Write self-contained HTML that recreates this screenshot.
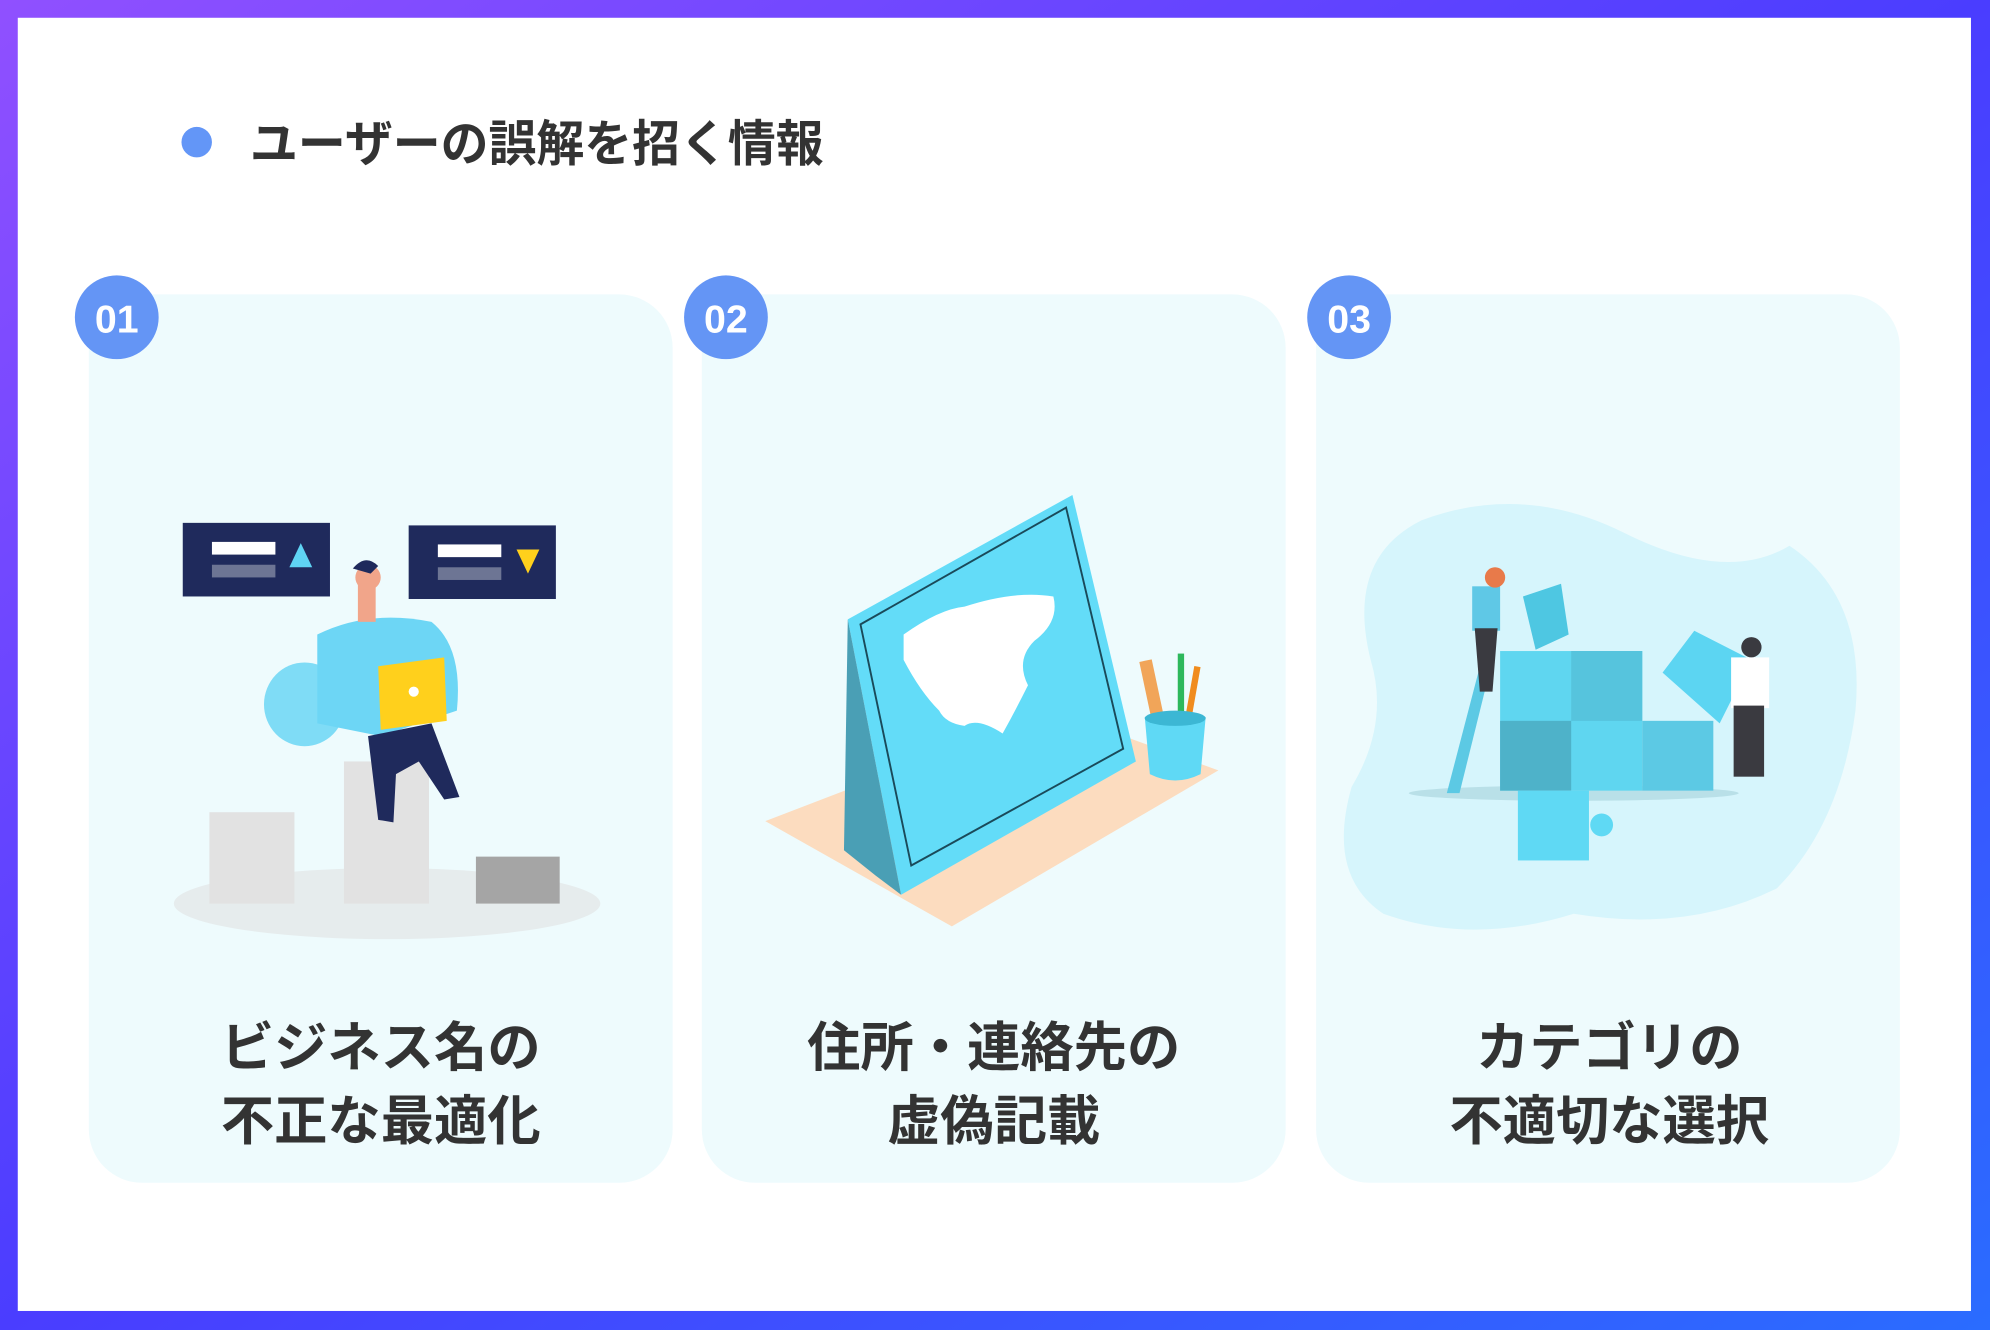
<!DOCTYPE html>
<html><head><meta charset="utf-8"><style>
html,body{margin:0;padding:0;background:#fff}
svg{display:block}
text{font-family:"Liberation Sans","Noto Sans CJK JP",sans-serif;font-weight:bold}
</style></head><body>
<svg width="1990" height="1330" viewBox="0 0 1568 1048" preserveAspectRatio="none" xmlns="http://www.w3.org/2000/svg">
<defs>
<linearGradient id="bg" x1="0" y1="0" x2="1" y2="1">
<stop offset="0" stop-color="#9050ff"/><stop offset="0.5" stop-color="#4a3dff"/><stop offset="1" stop-color="#2a6cff"/>
</linearGradient>
</defs>
<rect width="1568" height="1048" fill="url(#bg)"/>
<rect x="14" y="14" width="1539" height="1019" fill="#fff"/>
<circle cx="155" cy="112" r="12" fill="#6396f7"/>
<text x="197" y="127" font-size="39" fill="#333" textLength="452" lengthAdjust="spacingAndGlyphs">ユーザーの誤解を招く情報</text>

<rect x="70" y="232" width="460" height="700" rx="42" fill="#eefbfd"/>
<rect x="553" y="232" width="460" height="700" rx="42" fill="#eefbfd"/>
<rect x="1037" y="232" width="460" height="700" rx="42" fill="#eefbfd"/>

<g font-size="31" fill="#fff" text-anchor="middle">
<circle cx="92" cy="250" r="33" fill="#6495f5"/><text x="92" y="262">01</text>
<circle cx="572" cy="250" r="33" fill="#6495f5"/><text x="572" y="262">02</text>
<circle cx="1063" cy="250" r="33" fill="#6495f5"/><text x="1063" y="262">03</text>
</g>

<ellipse cx="305" cy="712" rx="168" ry="28" fill="#e6eced"/>
<rect x="165" y="640" width="67" height="72" fill="#e2e2e2"/>
<rect x="271" y="600" width="67" height="112" fill="#e2e2e2"/>
<rect x="375" y="675" width="66" height="37" fill="#a5a5a5"/>
<rect x="144" y="412" width="116" height="58" fill="#1f2a5c"/>
<rect x="167" y="427" width="50" height="10" fill="#fff"/><rect x="167" y="445" width="50" height="10" fill="#6d7594"/>
<polygon points="237,428 228,447 246,447" fill="#5fd4f4"/>
<rect x="322" y="414" width="116" height="58" fill="#1f2a5c"/>
<rect x="345" y="429" width="50" height="10" fill="#fff"/><rect x="345" y="447" width="50" height="10" fill="#6d7594"/>
<polygon points="407,433 425,433 416,452" fill="#ffd01c"/>
<ellipse cx="240" cy="555" rx="32" ry="33" fill="#7fdcf6"/>
<path d="M250,500 Q290,480 340,490 Q365,510 360,560 L300,580 L250,570 Z" fill="#6dd6f5"/>
<rect x="282" y="455" width="14" height="35" fill="#f1a58a"/>
<circle cx="290" cy="455" r="10" fill="#f1a58a"/><path d="M278,448 Q288,436 298,446 L292,452 Z" fill="#1f2a5c"/>
<path d="M290,580 L340,570 L362,628 L350,630 L330,600 L312,610 L310,648 L298,646 Z" fill="#1f2a5c"/>
<polygon points="298,525 350,518 352,568 300,575" fill="#ffd01c"/>
<circle cx="326" cy="545" r="4" fill="#fff"/>

<polygon points="603,647 830,560 960,607 750,730" fill="#fcdcbf"/>
<polygon points="668,488 845,390 895,600 710,705" fill="#63dcf8"/>
<polygon points="668,488 710,705 690,690 665,670" fill="#4a9fb5"/>
<polygon points="678,492 840,400 885,590 718,682" fill="#63dcf8" stroke="#1a4a5a" stroke-width="1.5"/>
<path d="M712,500 Q740,480 760,478 Q800,465 830,470 Q835,490 815,505 Q800,520 810,540 Q800,560 790,578 Q770,565 760,572 Q745,570 740,560 Q725,545 712,520Z" fill="#fff"/>
<rect x="903" y="520" width="10" height="52" fill="#f1a559" transform="rotate(-12 908 546)"/>
<rect x="928" y="515" width="5" height="57" fill="#2eb85c"/><rect x="937" y="525" width="5" height="47" fill="#f08c1e" transform="rotate(10 940 548)"/>
<path d="M902,565 L950,565 L946,610 Q926,620 906,610 Z" fill="#5fd9f5"/>
<ellipse cx="926" cy="566" rx="24" ry="6" fill="#3cb7d4"/>

<path d="M1120,410 Q1200,380 1280,420 Q1360,460 1410,430 Q1470,470 1462,560 Q1450,650 1400,700 Q1330,735 1240,720 Q1160,745 1090,720 Q1045,690 1065,620 Q1095,570 1080,520 Q1060,440 1120,410Z" fill="#d6f5fc"/>
<ellipse cx="1240" cy="625" rx="130" ry="6" fill="#b9e0e8"/>
<rect x="1182" y="513" width="112" height="110" fill="#5fd6f0"/>
<rect x="1238" y="513" width="56" height="55" fill="#56c4dd"/>
<rect x="1182" y="568" width="56" height="55" fill="#4eb2c9"/>
<rect x="1294" y="568" width="56" height="55" fill="#5cc9e4"/>
<rect x="1196" y="623" width="56" height="55" fill="#5fd9f4"/><circle cx="1262" cy="650" r="9" fill="#5fd9f4"/>
<polygon points="1140,625 1170,510 1178,512 1150,625" fill="#5cc9e4"/>
<polygon points="1200,470 1230,460 1236,500 1210,512" fill="#4ec7e2"/>
<polygon points="1310,530 1335,497 1380,520 1355,570" fill="#5cd5f2"/>
<rect x="1160" y="462" width="22" height="35" fill="#5fc8e6"/><circle cx="1178" cy="455" r="8" fill="#e87a4a"/>
<path d="M1162,495 L1180,495 L1176,545 L1166,545Z" fill="#3a3a40"/>
<rect x="1364" y="518" width="30" height="40" fill="#fff"/><circle cx="1380" cy="510" r="8" fill="#3a3a40"/>
<rect x="1366" y="556" width="24" height="56" fill="#3a3a40"/>

<g font-size="42" fill="#333" text-anchor="middle">
<text x="300" y="840">ビジネス名の</text>
<text x="300" y="898">不正な最適化</text>
<text x="783" y="840">住所・連絡先の</text>
<text x="783" y="898">虚偽記載</text>
<text x="1268" y="840">カテゴリの</text>
<text x="1268" y="898">不適切な選択</text>
</g>
</svg>
</body></html>
